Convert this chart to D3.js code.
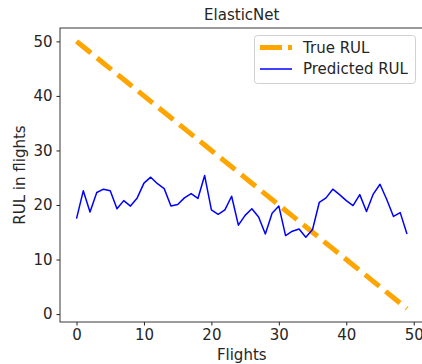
<!DOCTYPE html>
<html>
<head>
<meta charset="utf-8">
<script src="https://cdn.jsdelivr.net/npm/d3@7"></script>
<style>
  body { margin: 0; background: #fff; }
  svg text { font-family: "DejaVu Sans", sans-serif; fill: #262626; }
</style>
</head>
<body>
<div id="chart"></div>
<script>
const flights = d3.range(50);
const trueRul = [50, 49, 48, 47, 46, 45, 44, 43, 42, 41, 40, 39, 38, 37, 36, 35, 34, 33, 32, 31,
  30, 29, 28, 27, 26, 25, 24, 23, 22, 21, 20, 19, 18, 17, 16, 15, 14, 13, 12, 11,
  10, 9, 8, 7, 6, 5, 4, 3, 2, 1];
const predictedRul = [17.5, 22.6, 18.7, 22.3, 22.9, 22.6, 19.3, 20.8, 19.8, 21.3,
  24.0, 25.1, 23.9, 23.0, 19.8, 20.1, 21.3, 22.1, 21.2, 25.4,
  19.1, 18.3, 19.1, 21.6, 16.3, 18.1, 19.3, 17.8, 14.7, 18.5,
  19.8, 14.4, 15.2, 15.6, 14.1, 15.5, 20.5, 21.3, 22.9, 21.9,
  20.8, 19.9, 21.9, 18.8, 22.0, 23.8, 21.0, 17.9, 18.6, 14.7];
const xTicks = [0, 10, 20, 30, 40, 50];
const yTicks = [0, 10, 20, 30, 40, 50];

const width = 422;
const height = 364;
const marginTop = 28;
const marginLeft = 60;
const marginBottom = 42;
const plotRight = 423.5;
const fontSize = 15;

const svg = d3.select('#chart')
  .append('svg')
  .attr('width', width)
  .attr('height', height);

const x = d3.scaleLinear()
  .domain([-2.45, 51.45])
  .range([marginLeft, plotRight]);

const y = d3.scaleLinear()
  .domain([-1.45, 52.45])
  .range([height - marginBottom, marginTop]);

// x axis
svg.append('g')
  .attr('transform', `translate(0,${height - marginBottom})`)
  .call(d3.axisBottom(x).tickValues(xTicks).tickSize(3.5).tickPadding(4))
  .call(g => g.select('.domain').remove())
  .call(g => g.selectAll('.tick line').attr('stroke', '#222'))
  .call(g => g.selectAll('.tick text').attr('font-size', fontSize).attr('fill', '#262626'));

// y axis
svg.append('g')
  .attr('transform', `translate(${marginLeft},0)`)
  .call(d3.axisLeft(y).tickValues(yTicks).tickSize(3.5).tickPadding(4))
  .call(g => g.select('.domain').remove())
  .call(g => g.selectAll('.tick line').attr('stroke', '#222'))
  .call(g => g.selectAll('.tick text').attr('font-size', fontSize).attr('fill', '#262626'));

// spines
svg.append('rect')
  .attr('x', marginLeft)
  .attr('y', marginTop)
  .attr('width', plotRight - marginLeft)
  .attr('height', height - marginBottom - marginTop)
  .attr('fill', 'none')
  .attr('stroke', '#222')
  .attr('stroke-width', 0.9);

// lines
const line = d3.line()
  .x((d, i) => x(flights[i]))
  .y(d => y(d));

svg.append('path')
  .datum(trueRul)
  .attr('fill', 'none')
  .attr('stroke', 'orange')
  .attr('stroke-width', 5)
  .attr('stroke-dasharray', '18.5,8')
  .attr('d', line);

svg.append('path')
  .datum(predictedRul)
  .attr('fill', 'none')
  .attr('stroke', 'blue')
  .attr('stroke-width', 1.5)
  .attr('stroke-linejoin', 'round')
  .attr('d', line);

// labels
svg.append('text')
  .attr('x', (marginLeft + plotRight) / 2)
  .attr('y', 20)
  .attr('text-anchor', 'middle')
  .attr('font-size', fontSize)
  .text('ElasticNet');

svg.append('text')
  .attr('x', (marginLeft + plotRight) / 2)
  .attr('y', 360)
  .attr('text-anchor', 'middle')
  .attr('font-size', fontSize)
  .text('Flights');

svg.append('text')
  .attr('transform', `translate(25,${(marginTop + height - marginBottom) / 2}) rotate(-90)`)
  .attr('text-anchor', 'middle')
  .attr('font-size', fontSize)
  .text('RUL in flights');

// legend
const legend = svg.append('g');
legend.append('rect')
  .attr('x', 254.5)
  .attr('y', 35.5)
  .attr('width', 161)
  .attr('height', 48)
  .attr('rx', 3)
  .attr('fill', 'white')
  .attr('fill-opacity', 0.8)
  .attr('stroke', '#d0d0d0');

legend.append('line')
  .attr('x1', 260).attr('x2', 292)
  .attr('y1', 47.5).attr('y2', 47.5)
  .attr('stroke', 'orange')
  .attr('stroke-width', 5)
  .attr('stroke-dasharray', '22,6');

legend.append('text')
  .attr('x', 303).attr('y', 53)
  .attr('font-size', fontSize)
  .text('True RUL');

legend.append('line')
  .attr('x1', 260).attr('x2', 292)
  .attr('y1', 69).attr('y2', 69)
  .attr('stroke', 'blue')
  .attr('stroke-width', 1.5);

legend.append('text')
  .attr('x', 303).attr('y', 74)
  .attr('font-size', fontSize)
  .text('Predicted RUL');
</script>
</body>
</html>
